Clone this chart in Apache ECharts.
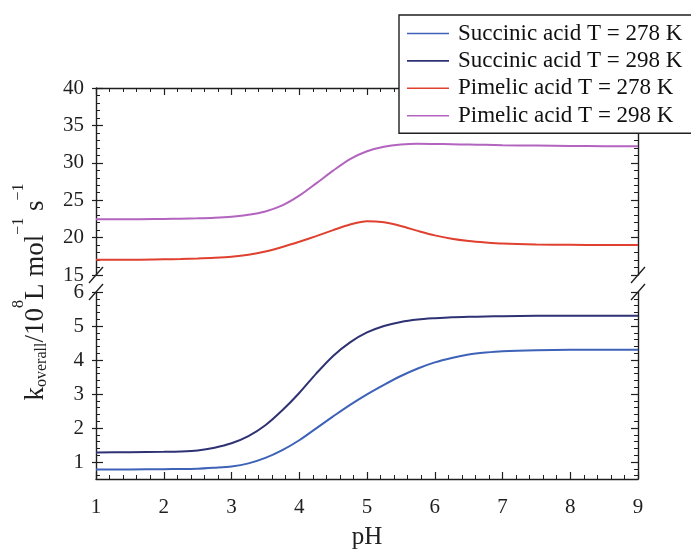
<!DOCTYPE html>
<html>
<head>
<meta charset="utf-8">
<script src="https://cdn.jsdelivr.net/npm/echarts@6/dist/echarts.min.js"></script>
<style>
  html, body { margin: 0; padding: 0; background: #ffffff; }
  #chart { width: 691px; height: 551px; }
</style>
</head>
<body>
<div id="chart"></div>
<script>
// pH grid shared by all four curves
const pH = [1, 1.5, 2, 2.25, 2.5, 2.75, 3, 3.25, 3.5, 3.75, 4, 4.25, 4.5, 4.75, 5, 5.25, 5.5, 5.75, 6, 6.25, 6.5, 6.75, 7, 7.5, 8, 8.5, 9];

// overall rate constants, 10^8 L mol^-1 s^-1
const succinic278 = [0.78, 0.78, 0.79, 0.795, 0.80, 0.83, 0.87, 0.96, 1.12, 1.35, 1.64, 1.99, 2.34, 2.68, 2.99, 3.27, 3.53, 3.75, 3.93, 4.06, 4.16, 4.22, 4.26, 4.29, 4.30, 4.30, 4.30];
const succinic298 = [1.28, 1.29, 1.30, 1.31, 1.34, 1.42, 1.55, 1.76, 2.08, 2.52, 3.03, 3.60, 4.12, 4.52, 4.81, 5.00, 5.12, 5.19, 5.23, 5.26, 5.27, 5.28, 5.29, 5.30, 5.30, 5.30, 5.30];
const pimelic278 = [17.05, 17.05, 17.10, 17.13, 17.20, 17.30, 17.45, 17.72, 18.15, 18.75, 19.45, 20.20, 21.00, 21.75, 22.20, 22.05, 21.55, 20.90, 20.30, 19.85, 19.55, 19.35, 19.20, 19.08, 19.03, 19.00, 19.00];
const pimelic298 = [22.45, 22.45, 22.50, 22.53, 22.58, 22.66, 22.80, 23.05, 23.50, 24.30, 25.60, 27.25, 28.95, 30.50, 31.55, 32.15, 32.45, 32.55, 32.52, 32.48, 32.44, 32.40, 32.36, 32.30, 32.25, 32.22, 32.20];

const seriesNames = ['Succinic acid T = 278 K', 'Succinic acid T = 298 K', 'Pimelic acid T = 278 K', 'Pimelic acid T = 298 K'];

// axis ranges and tick values
const xRange = [1, 9];
const upperRange = [15, 40];
const upperStep = 5;
const lowerRange = [0.5, 6];
const lowerTicks = [1, 2, 3, 4, 5, 6];
const lowerMinorTicks = [0.6, 0.8, 1.2, 1.4, 1.6, 1.8, 2.2, 2.4, 2.6, 2.8, 3.2, 3.4, 3.6, 3.8, 4.2, 4.4, 4.6, 4.8, 5.2, 5.4, 5.6, 5.8];

const INK = '#1f1f1f';
const SERIF = '"Liberation Serif", "DejaVu Serif", serif';
const COLORS = ['#3d62b8', '#2e3274', '#e0402f', '#b264bf'];

const chart = echarts.init(document.getElementById('chart'), null, { renderer: 'canvas' });

const pairs = (ys) => pH.map((x, i) => [x, ys[i]]);

const frameLine = { show: true, onZero: false, lineStyle: { color: INK, width: 1.4 } };
const hiddenLine = { show: false, onZero: false };
const majorTick = { show: true, inside: true, length: 7, lineStyle: { color: INK, width: 1.2 } };
const minorTick = { show: true, splitNumber: 5, length: 4, lineStyle: { color: INK, width: 1 } };
const stubTick = { show: true, inside: false, length: 4, lineStyle: { color: INK, width: 1.2 } };
const tickFont = { fontFamily: SERIF, fontSize: 21, color: INK };

function xAxisFor(grid, position, withLabels) {
  const ax = {
    type: 'value', gridIndex: grid, position: position,
    min: xRange[0], max: xRange[1], interval: 1,
    axisLine: frameLine, axisTick: majorTick, minorTick: minorTick,
    splitLine: { show: false },
    axisLabel: withLabels ? Object.assign({ show: true, margin: 18 }, tickFont) : { show: false }
  };
  if (withLabels) {
    ax.name = 'pH';
    ax.nameLocation = 'middle';
    ax.nameGap = 46;
    ax.nameTextStyle = { fontFamily: SERIF, fontSize: 25, color: INK };
  }
  return ax;
}

function upperY(position, part) {
  const ax = {
    type: 'value', gridIndex: 0, position: position,
    min: upperRange[0], max: upperRange[1], interval: upperStep,
    splitLine: { show: false }, axisLabel: { show: false },
    axisLine: hiddenLine, axisTick: { show: false }
  };
  if (part === 'main') {
    ax.axisLine = frameLine;
    ax.axisTick = majorTick;
    ax.minorTick = minorTick;
    if (position === 'left') ax.axisLabel = Object.assign({ show: true, margin: 12 }, tickFont);
  } else if (part === 'stub') {
    ax.axisTick = stubTick;
  }
  return ax;
}

function lowerY(position, part) {
  const ax = {
    type: 'value', gridIndex: 1, position: position,
    min: lowerRange[0], max: lowerRange[1],
    splitLine: { show: false }, axisLabel: { show: false },
    axisLine: hiddenLine, axisTick: { show: false }
  };
  if (part === 'main') {
    ax.axisLine = frameLine;
    ax.axisTick = Object.assign({ customValues: lowerTicks }, majorTick);
    if (position === 'left') ax.axisLabel = Object.assign({ show: true, margin: 12, customValues: lowerTicks }, tickFont);
  } else if (part === 'minor') {
    ax.axisTick = { show: true, inside: true, length: 4, customValues: lowerMinorTicks, lineStyle: { color: INK, width: 1 } };
  } else if (part === 'stub') {
    ax.axisTick = Object.assign({ customValues: lowerTicks }, stubTick);
  }
  return ax;
}

function lineSeries(i, ys, xIdx, yIdx) {
  return {
    name: seriesNames[i], type: 'line', xAxisIndex: xIdx, yAxisIndex: yIdx,
    data: pairs(ys), smooth: 0.3, symbol: 'none',
    lineStyle: { color: COLORS[i], width: 2 }, itemStyle: { color: COLORS[i] },
    z: 3
  };
}

chart.setOption({
  animation: false,
  backgroundColor: '#ffffff',
  grid: [
    { left: 96, right: 53, top: 88, height: 187 },
    { left: 96, right: 53, top: 292, height: 188 }
  ],
  xAxis: [xAxisFor(0, 'top', false), xAxisFor(1, 'bottom', true)],
  yAxis: [
    upperY('left', 'main'),   // 0
    upperY('left', 'stub'),   // 1
    upperY('right', 'main'),  // 2
    lowerY('left', 'main'),   // 3
    lowerY('left', 'minor'),  // 4
    lowerY('left', 'stub'),   // 5
    lowerY('right', 'main'),  // 6
    lowerY('right', 'minor')  // 7
  ],
  legend: {
    data: seriesNames.map((n) => ({ name: n, icon: 'rect' })),
    orient: 'vertical',
    left: 399, top: 15,
    padding: [7, 30, 6, 8],
    itemGap: 4.4,
    itemWidth: 42, itemHeight: 1.6,
    selectedMode: false,
    backgroundColor: '#ffffff',
    borderColor: INK, borderWidth: 1.4,
    textStyle: { fontFamily: SERIF, fontSize: 23, lineHeight: 22, color: '#111', padding: [0, 0, 0, 4] },
    z: 10
  },
  series: [
    lineSeries(0, succinic278, 1, 3),
    lineSeries(1, succinic298, 1, 3),
    lineSeries(2, pimelic278, 0, 0),
    lineSeries(3, pimelic298, 0, 0)
  ]
});

// axis-break slashes at both ends of the gap, plus the rotated y-axis title
const xLeft = chart.convertToPixel({ xAxisIndex: 0 }, xRange[0]);
const xRight = chart.convertToPixel({ xAxisIndex: 0 }, xRange[1]);
const yUpperEnd = chart.convertToPixel({ yAxisIndex: 0 }, upperRange[0]);
const yLowerEnd = chart.convertToPixel({ yAxisIndex: 3 }, lowerRange[1]);

const slash = (cx, cy) => ({
  type: 'line', z: 20,
  shape: { x1: cx - 7, y1: cy + 8, x2: cx + 7, y2: cy - 8 },
  style: { stroke: INK, lineWidth: 1.4 }
});

chart.setOption({
  graphic: [
    slash(xLeft, yUpperEnd), slash(xRight, yUpperEnd),
    slash(xLeft, yLowerEnd), slash(xRight, yLowerEnd),
    {
      type: 'text', x: 36, y: 292, rotation: Math.PI / 2, z: 20,
      style: {
        text: '{m|k}{sub|overall}{m|/10}{sup|8}{m|L mol}{sup|\u22121}{m| s}{sup|\u22121}',
        align: 'center', verticalAlign: 'middle',
        rich: {
          m: { fontFamily: SERIF, fontSize: 27, lineHeight: 50, fill: INK, verticalAlign: 'middle' },
          sup: { fontFamily: SERIF, fontSize: 16, lineHeight: 16, fill: INK, verticalAlign: 'top' },
          sub: { fontFamily: SERIF, fontSize: 16, lineHeight: 16, fill: INK, verticalAlign: 'middle', padding: [12, 0, 0, 0] }
        }
      }
    }
  ]
});
</script>
</body>
</html>
